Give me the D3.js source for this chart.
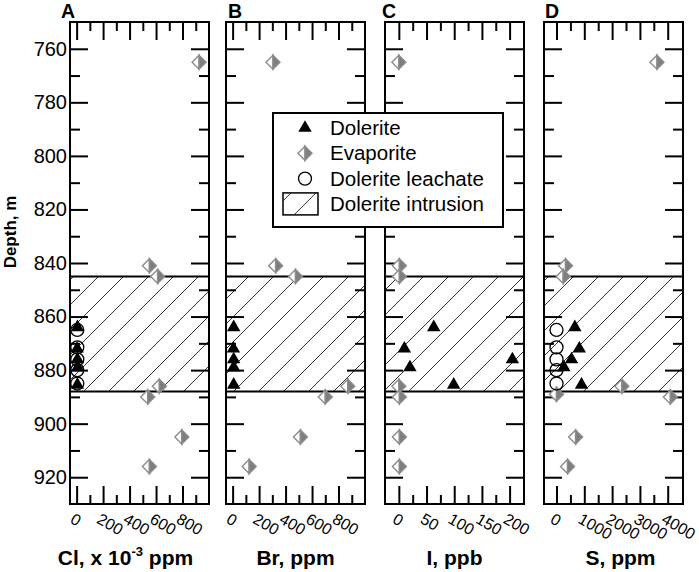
<!DOCTYPE html>
<html>
<head>
<meta charset="utf-8">
<script src="https://cdn.jsdelivr.net/npm/d3@7"></script>
<style>
  body { margin: 0; background: #fff; }
  text { font-family: "Liberation Sans", Arial, sans-serif; }
</style>
</head>
<body>
<div class="chart"></div>
<script>
// depths (m) and values
const dolDepth = [864, 872, 876, 879, 885.5];
const dolCl = [6, 4, 6, 8, 6];
const dolBr = [8, 6, 8, 8, 8];
const dolI = [63, 10, 205, 20, 99];
const dolS = [660, 820, 540, 265, 900];

const leachDepth = [865, 871.5, 876, 880, 885];
const leachCl = [5, 5, 5, 5, 5];
const leachS = [0, 0, 0, 0, 0];

const evapDepth = [765, 841, 845, 886, 889, 890, 905, 916];
const evapCl = [925, 550, 612, 625, null, 537, 795, 550];
const evapBr = [305, 325, 475, 870, null, 700, 512, 125];
const evapI = [0, 1, 1, 0, null, 1, 1, 1];
const evapS = [3614, 325, 240, 2350, 0, 4095, 687, 397];

const intrusion = [845, 888];

const panelLetters = ['A', 'B', 'C', 'D'];
const xDomains = [[-50, 1000], [-50, 1000], [-25, 226], [-450, 4550]];
const majorTicks = [[0, 200, 400, 600, 800], [0, 200, 400, 600, 800], [0, 50, 100, 150, 200], [0, 1000, 2000, 3000, 4000]];
const minorTicks = [[100, 300, 500, 700, 900], [100, 300, 500, 700, 900], [25, 75, 125, 175], [500, 1500, 2500, 3500]];
const depthMajor = [760, 780, 800, 820, 840, 860, 880, 900, 920];
const depthMinor = [770, 790, 810, 830, 850, 870, 890, 910];

const panels = [
    {dol: dolCl, leach: leachCl, evap: evapCl},
    {dol: dolBr, leach: null, evap: evapBr},
    {dol: dolI, leach: null, evap: evapI},
    {dol: dolS, leach: leachS, evap: evapS}
];

let svg = d3.select('.chart').append('svg')
    .attr('width', 699)
    .attr('height', 572);

let defs = svg.append('defs');
let pat = defs.append('pattern')
    .attr('id', 'hatch')
    .attr('patternUnits', 'userSpaceOnUse')
    .attr('width', 25)
    .attr('height', 25);
pat.append('path')
    .attr('d', 'M0,25 L25,0 M-5,5 L5,-5 M20,30 L30,20')
    .attr('stroke', '#000')
    .attr('stroke-width', 0.8);

let lefts = [70, 226, 385, 544];
let pw = 139;
let plotTop = 22, plotBottom = 504;
let y = d3.scaleLinear().domain([750, 930]).range([plotTop, plotBottom]);
let grey = '#8c8c8c';

function evapMarker(g) {
    g.append('path').attr('d', 'M0,-7L-7,0L0,7Z')
        .attr('fill', '#fff').attr('stroke', grey).attr('stroke-width', 1.4);
    g.append('path').attr('d', 'M0,-7L7,0L0,7Z')
        .attr('fill', '#7e7e7e').attr('stroke', grey).attr('stroke-width', 1.4);
}

panels.forEach((p, i) => {
    let x = d3.scaleLinear().domain(xDomains[i]).range([lefts[i], lefts[i] + pw]);
    let g = svg.append('g').attr('class', 'panel');

    // intrusion band
    g.append('rect')
        .attr('x', lefts[i]).attr('width', pw)
        .attr('y', y(intrusion[0])).attr('height', y(intrusion[1]) - y(intrusion[0]))
        .attr('fill', 'url(#hatch)');
    intrusion.forEach(d => {
        g.append('line')
            .attr('x1', lefts[i]).attr('x2', lefts[i] + pw)
            .attr('y1', y(d)).attr('y2', y(d))
            .attr('stroke', '#000').attr('stroke-width', 2);
    });

    // depth ticks on both sides
    let axes = [
        [d3.axisLeft(y), lefts[i], 1],
        [d3.axisRight(y), lefts[i] + pw, -1]
    ];
    axes.forEach(a => {
        let ag = g.append('g').attr('transform', 'translate(' + a[1] + ',0)');
        ag.append('g').call(a[0].tickValues(depthMinor).tickSize(-10).tickFormat(''));
        ag.append('g').attr('class', 'yax').call(a[0].tickValues(depthMajor).tickSize(-18)
            .tickFormat(i === 0 && a[2] === 1 ? d3.format('d') : ''));
    });

    // x ticks top and bottom
    let topAx = g.append('g').attr('transform', 'translate(0,' + plotTop + ')');
    topAx.append('g').call(d3.axisTop(x).tickValues(minorTicks[i]).tickSize(-9).tickFormat(''));
    topAx.append('g').call(d3.axisTop(x).tickValues(majorTicks[i]).tickSize(-18).tickFormat(''));
    let botAx = g.append('g').attr('transform', 'translate(0,' + plotBottom + ')');
    botAx.append('g').call(d3.axisBottom(x).tickValues(minorTicks[i]).tickSize(-9).tickFormat(''));
    botAx.append('g').attr('class', 'xax')
        .call(d3.axisBottom(x).tickValues(majorTicks[i]).tickSize(-18).tickFormat(d3.format('d')));

    g.selectAll('.domain').remove();
    g.selectAll('.tick line').attr('stroke', '#000').attr('stroke-width', 2);
    g.selectAll('.tick text').attr('fill', '#000')
        .attr('font-family', '"Liberation Sans", Arial, sans-serif');
    g.selectAll('.yax .tick text').attr('font-size', 20);
    g.selectAll('.xax .tick text')
        .attr('font-size', 16)
        .attr('x', -5).attr('y', 13.6).attr('dy', null)
        .attr('dominant-baseline', 'central')
        .style('text-anchor', 'start')
        .attr('transform', 'rotate(30 -5 13.6)');

    // frame
    g.append('rect')
        .attr('x', lefts[i]).attr('y', plotTop).attr('width', pw).attr('height', plotBottom - plotTop)
        .attr('fill', 'none').attr('stroke', '#000').attr('stroke-width', 2);

    // markers
    evapDepth.forEach((d, k) => {
        if (p.evap[k] === null) return;
        g.append('g').attr('transform', 'translate(' + x(p.evap[k]) + ',' + y(d) + ')').call(evapMarker);
    });
    if (p.leach) {
        leachDepth.forEach((d, k) => {
            g.append('circle')
                .attr('cx', x(p.leach[k])).attr('cy', y(d)).attr('r', 6.5)
                .attr('fill', 'none').attr('stroke', '#000').attr('stroke-width', 1.3);
        });
    }
    dolDepth.forEach((d, k) => {
        g.append('path')
            .attr('d', d3.symbol(d3.symbolTriangle, 78)())
            .attr('transform', 'translate(' + x(p.dol[k]) + ',' + y(d) + ')')
            .attr('fill', '#000');
    });
});

// panel letters
let letterX = [61, 228, 382, 545];
panelLetters.forEach((l, i) => {
    svg.append('text')
        .attr('x', letterX[i]).attr('y', 17.5)
        .attr('font-size', 19.5).attr('font-weight', 'bold')
        .text(l);
});

// axis titles
let titleDx = [-14, 0, 0, 7];
let titles = svg.selectAll('.xtitle').data(lefts).enter().append('text')
    .attr('class', 'xtitle')
    .attr('x', (d, i) => d + pw / 2 + titleDx[i])
    .attr('y', 565)
    .attr('font-size', 21).attr('font-weight', 'bold')
    .style('text-anchor', 'middle');
titles.each(function (d, i) {
    let t = d3.select(this);
    if (i === 0) {
        t.append('tspan').text('Cl, x 10');
        t.append('tspan').attr('font-size', 13).attr('dy', -9).text('-3');
        t.append('tspan').attr('dy', 9).text(' ppm');
    } else {
        t.text(['', 'Br, ppm', 'I, ppb', 'S, ppm'][i]);
    }
});

svg.append('text')
    .attr('transform', 'translate(16,232) rotate(-90)')
    .attr('font-size', 17).attr('font-weight', 'bold')
    .style('text-anchor', 'middle')
    .text('Depth, m');

// legend
let lg = svg.append('g').attr('class', 'legend');
lg.append('rect')
    .attr('x', 273).attr('y', 113).attr('width', 230).attr('height', 114)
    .attr('fill', '#fff').attr('stroke', '#000').attr('stroke-width', 2);
let legendNames = ['Dolerite', 'Evaporite', 'Dolerite leachate', 'Dolerite intrusion'];
legendNames.forEach((n, k) => {
    let cy = 128 + k * 25.3;
    let item = lg.append('g').attr('transform', 'translate(305,' + cy + ')');
    if (k === 0) {
        item.append('path').attr('d', d3.symbol(d3.symbolTriangle, 78)()).attr('fill', '#000');
    } else if (k === 1) {
        item.call(evapMarker);
    } else if (k === 2) {
        item.append('circle').attr('r', 6.5).attr('fill', 'none')
            .attr('stroke', '#000').attr('stroke-width', 1.3);
    } else {
        item.append('rect').attr('x', -22).attr('y', -11).attr('width', 35).attr('height', 22)
            .attr('fill', 'url(#hatch)').attr('stroke', '#000').attr('stroke-width', 1.5);
    }
    lg.append('text')
        .attr('x', 330).attr('y', cy + 7)
        .attr('font-size', 20.5)
        .text(n);
});
</script>
</body>
</html>
